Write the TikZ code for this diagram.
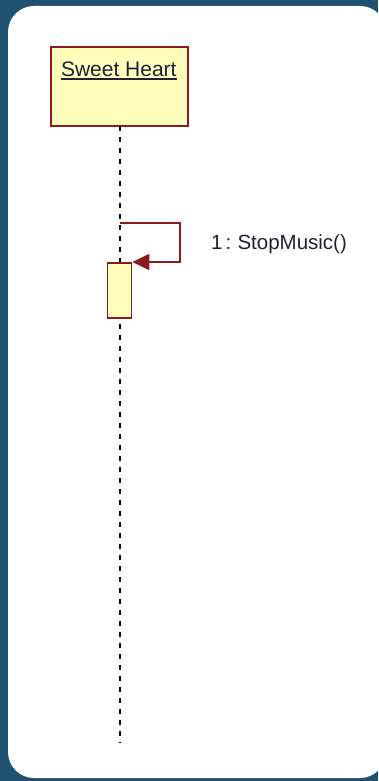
\documentclass[tikz,border=0pt]{standalone}
\usepackage{fontspec}
\setmainfont{Liberation Sans}
\usetikzlibrary{arrows.meta}
\definecolor{bgblue}{HTML}{1E5070}
\definecolor{umlred}{HTML}{8B1A1A}
\definecolor{umlfill}{HTML}{FFFFBB}
\definecolor{umltext}{HTML}{202038}
\begin{document}
\begin{tikzpicture}[x=1pt,y=-1pt,
  objbox/.style={draw=umlred,line width=1.8pt,fill=umlfill,minimum width=137pt,minimum height=79pt,inner sep=0pt},
  actbox/.style={draw=umlred,line width=1.8pt,fill=umlfill,minimum width=24pt,minimum height=55pt,inner sep=0pt},
  lifeline/.style={black,line width=1.6pt,dash pattern=on 5pt off 6pt},
  msg/.style={draw=umlred,line width=1.8pt,-{Triangle[length=17pt,width=16pt,fill=umlred]}},
  lbl/.style={text=umltext,font=\fontsize{21}{24}\selectfont,inner sep=0pt}]
\useasboundingbox (0,0) rectangle (378,781);
\fill[bgblue] (0,0) rectangle (378,781);
\fill[white,rounded corners=26pt] (8,6) rectangle (386,778);
% object
\node[objbox,anchor=north west] (obj) at (50,46) {};
\node[lbl,anchor=base] (objname) at (118.8,77) {Sweet Heart};
\draw[umltext,line width=1.6pt] (objname.base west)++(0,2) coordinate (ulA) -- (objname.base east |- ulA);
% lifeline
\coordinate (lifeend) at (120,742);
\coordinate (lifetop) at (120,125.5);
\draw[lifeline] (lifetop) -- (lifeend);
% activation
\node[actbox,anchor=north west] (act) at (106.5,262) {};
% self message
\coordinate (msgstart) at (120,223);
\draw[msg] (msgstart) -- (180,223) -- (180,262) -- (act.north east |- 0,262);
\node[lbl,anchor=west,font=\fontsize{20.5}{24}\selectfont] (msglabel) at (211,244) {1\kern0.15em:\kern0.3em StopMusic()};
\end{tikzpicture}
\end{document}
